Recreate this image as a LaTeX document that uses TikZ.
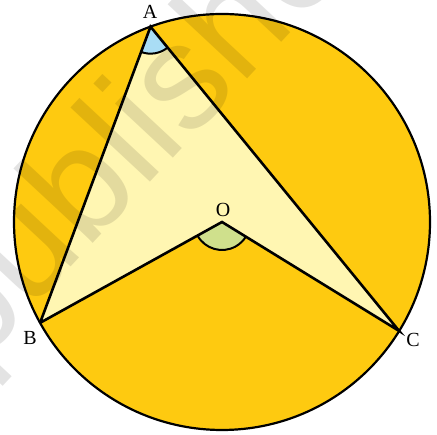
\documentclass[tikz,border=0pt]{standalone}
\usepackage{fontspec}
\setmainfont{Liberation Serif}
\newfontfamily\wmfont{Liberation Sans}
\usetikzlibrary{angles,calc}
\definecolor{disk}{HTML}{FECA10}
\definecolor{quad}{HTML}{FFF6B2}
\definecolor{angA}{HTML}{A9DDF5}
\definecolor{angO}{HTML}{CFE08C}
\tikzset{
  edge/.style={line width=2.6pt, line join=miter},
  lbl/.style={font=\fontsize{20}{20}\selectfont, inner sep=0pt},
  angmark/.style={draw, line width=2pt, angle radius=27pt}
}
\begin{document}
\begin{tikzpicture}[x=1pt,y=1pt]
\useasboundingbox (0,0) rectangle (437,435);
\coordinate (O) at (222,213);
\coordinate (A) at ($(O)+(110.1:208)$);
\coordinate (B) at ($(O)+(209:208)$);
\coordinate (C) at ($(O)+(328.4:208)$);
\fill[disk] (O) circle[radius=208];
\fill[quad] (A) -- (B) -- (O) -- (C) -- cycle;
\pic[angmark, fill=angA] {angle=B--A--C};
\pic[angmark, fill=angO, angle radius=28pt] {angle=B--O--C};
\node[rotate=47, anchor=base, text=black, opacity=0.11, font=\wmfont\fontsize{150}{150}\selectfont, inner sep=0pt] (wm) at (192,297) {published};
\draw[line width=2.2pt] (O) circle[radius=208];
\draw[edge] (B) -- (A) -- (C) -- (O) -- (B);
\node[lbl] (lA) at (150,423) {A};
\node[lbl] (lO) at (223,225) {O};
\node[lbl] (lB) at (30,97) {B};
\node[lbl] (lC) at (413,95) {C};
\end{tikzpicture}
\end{document}
